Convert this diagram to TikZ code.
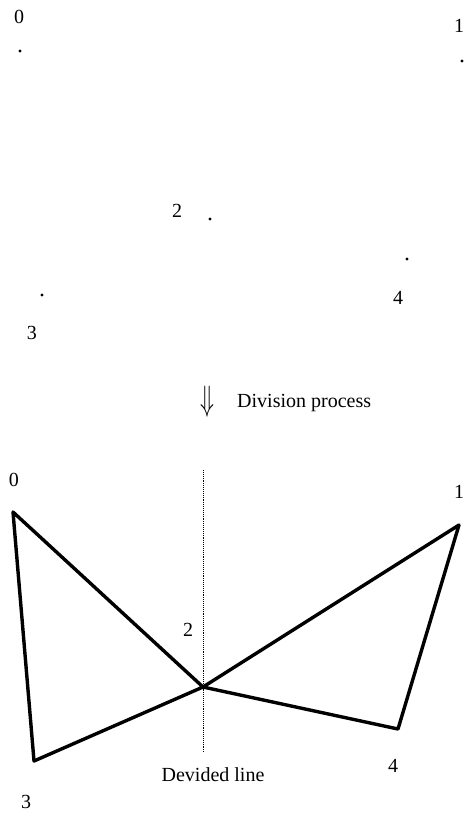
\documentclass[tikz,border=0pt]{standalone}
\usepackage{fontspec}
\setmainfont{Liberation Serif}
\begin{document}
\begin{tikzpicture}[x=1pt,y=-1pt,
  lbl/.style={inner sep=0pt,font=\fontsize{20}{24}\selectfont},
  dotpt/.style={circle,fill=black,inner sep=0pt,minimum size=3.4pt},
  vtx/.style={coordinate},
  edge/.style={line width=3.4pt,line cap=round,line join=round}]
\useasboundingbox (0,0) rectangle (465,814);
% top: points
\node[lbl] (t0l) at (19,17) {0};
\node[dotpt] (t0) at (20,51) {};
\node[lbl] (t1l) at (459,26) {1};
\node[dotpt] (t1) at (462,61) {};
\node[lbl] (t2l) at (177,211) {2};
\node[dotpt] (t2) at (210,219) {};
\node[dotpt] (t3) at (42,295) {};
\node[lbl] (t3l) at (32,333) {3};
\node[dotpt] (t4) at (407,259) {};
\node[lbl] (t4l) at (398,298) {4};
% arrow
\node[lbl] (arr) at (207,402) {\scalebox{1.1}[1.7]{$\Downarrow$}};
\node[lbl,anchor=base west] (divtxt) at (237,407) {Division process};
% bottom
\node[lbl] (b0l) at (14,480) {0};
\node[lbl] (b1l) at (459,492) {1};
\node[lbl] (b2l) at (188,630) {2};
\node[lbl] (b3l) at (26,802) {3};
\node[lbl] (b4l) at (393,766) {4};
\node[vtx] (b0) at (13,512) {};
\node[vtx] (b1) at (459,525) {};
\node[vtx] (b2) at (203,687) {};
\node[vtx] (b3) at (34,761) {};
\node[vtx] (b4) at (398,729) {};
\coordinate (dtop) at (203,470);
\coordinate (dbot) at (203,752);
\draw[densely dotted,line width=0.9pt] (dtop) -- (dbot);
\draw[edge] (b0) -- (b2) -- (b1) -- (b4) -- (b2) -- (b3) -- cycle;
\node[lbl] (dl) at (213,775) {Devided line};
\end{tikzpicture}
\end{document}
